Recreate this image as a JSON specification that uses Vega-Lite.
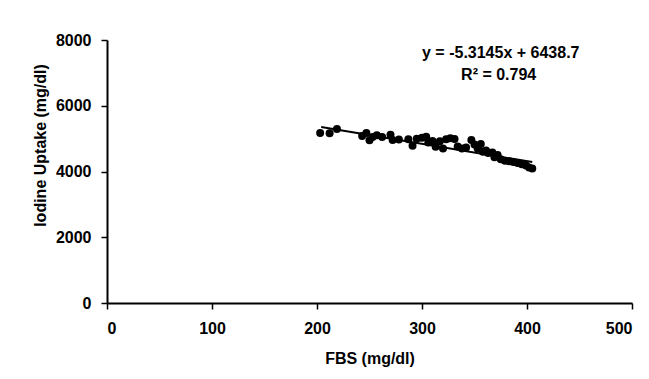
{
  "$schema": "https://vega.github.io/schema/vega-lite/v6.json",
  "width": 525,
  "height": 263,
  "autosize": {"type": "none"},
  "padding": {"left": 107, "top": 40, "right": 17, "bottom": 76},
  "background": "white",
  "datasets": {
    "points": [
      {"fbs": 203, "iodine": 5170}, {"fbs": 212, "iodine": 5160}, {"fbs": 219, "iodine": 5290},
      {"fbs": 243, "iodine": 5080}, {"fbs": 247, "iodine": 5170}, {"fbs": 250, "iodine": 4950},
      {"fbs": 253, "iodine": 5050}, {"fbs": 257, "iodine": 5100}, {"fbs": 262, "iodine": 5050},
      {"fbs": 270, "iodine": 5120}, {"fbs": 272, "iodine": 4960}, {"fbs": 278, "iodine": 4970},
      {"fbs": 287, "iodine": 4980}, {"fbs": 291, "iodine": 4780}, {"fbs": 295, "iodine": 5000},
      {"fbs": 300, "iodine": 5030}, {"fbs": 304, "iodine": 5060}, {"fbs": 306, "iodine": 4880},
      {"fbs": 310, "iodine": 4930}, {"fbs": 313, "iodine": 4750}, {"fbs": 317, "iodine": 4920},
      {"fbs": 320, "iodine": 4700}, {"fbs": 323, "iodine": 4980}, {"fbs": 327, "iodine": 5010},
      {"fbs": 331, "iodine": 4990}, {"fbs": 334, "iodine": 4760}, {"fbs": 338, "iodine": 4700},
      {"fbs": 342, "iodine": 4730}, {"fbs": 347, "iodine": 4960}, {"fbs": 350, "iodine": 4820},
      {"fbs": 353, "iodine": 4700}, {"fbs": 356, "iodine": 4840}, {"fbs": 358, "iodine": 4600},
      {"fbs": 361, "iodine": 4640}, {"fbs": 363, "iodine": 4560}, {"fbs": 367, "iodine": 4580},
      {"fbs": 369, "iodine": 4430}, {"fbs": 372, "iodine": 4500}, {"fbs": 375, "iodine": 4370},
      {"fbs": 379, "iodine": 4330}, {"fbs": 383, "iodine": 4310}, {"fbs": 387, "iodine": 4290},
      {"fbs": 391, "iodine": 4260}, {"fbs": 395, "iodine": 4220}, {"fbs": 399, "iodine": 4180},
      {"fbs": 402, "iodine": 4120}, {"fbs": 405, "iodine": 4090}
    ],
    "trend": [
      {"fbs": 204, "iodine": 5354},
      {"fbs": 405, "iodine": 4286}
    ],
    "labels": [
      {"fbs": 375, "iodine": 7452, "label": "y = -5.3145x + 6438.7"},
      {"fbs": 373, "iodine": 6783, "label": "R² = 0.794"}
    ]
  },
  "encoding": {
    "x": {
      "field": "fbs",
      "type": "quantitative",
      "scale": {"domain": [0, 500], "nice": false},
      "axis": {
        "title": "FBS (mg/dl)",
        "values": [0, 100, 200, 300, 400, 500],
        "format": "d",
        "tickSize": 6,
        "labelPadding": 11,
        "titleBaseline": "alphabetic",
        "titleY": 60
      }
    },
    "y": {
      "field": "iodine",
      "type": "quantitative",
      "scale": {"domain": [0, 8000], "nice": false},
      "axis": {
        "title": "Iodine Uptake (mg/dl)",
        "values": [0, 2000, 4000, 6000, 8000],
        "format": "d",
        "tickSize": 6,
        "labelPadding": 10,
        "titleAngle": 270,
        "titleAlign": "center",
        "titleBaseline": "alphabetic",
        "titleX": -62,
        "titleY": 105
      }
    }
  },
  "layer": [
    {
      "data": {"name": "points"},
      "mark": {"type": "circle", "size": 64, "color": "black", "opacity": 1}
    },
    {
      "data": {"name": "trend"},
      "mark": {"type": "line", "color": "black", "strokeWidth": 2}
    },
    {
      "data": {"name": "labels"},
      "mark": {"type": "text", "font": "Liberation Sans", "fontWeight": "bold", "fontSize": 16, "color": "black", "align": "center", "baseline": "alphabetic"},
      "encoding": {"text": {"field": "label"}}
    }
  ],
  "config": {
    "view": {"stroke": null},
    "axis": {
      "grid": false,
      "domainColor": "black",
      "domainWidth": 2,
      "tickColor": "black",
      "tickWidth": 1.5,
      "labelFont": "Liberation Sans",
      "labelFontWeight": "bold",
      "labelFontSize": 16,
      "labelColor": "black",
      "titleFont": "Liberation Sans",
      "titleFontWeight": "bold",
      "titleFontSize": 16,
      "titleColor": "black"
    }
  }
}
